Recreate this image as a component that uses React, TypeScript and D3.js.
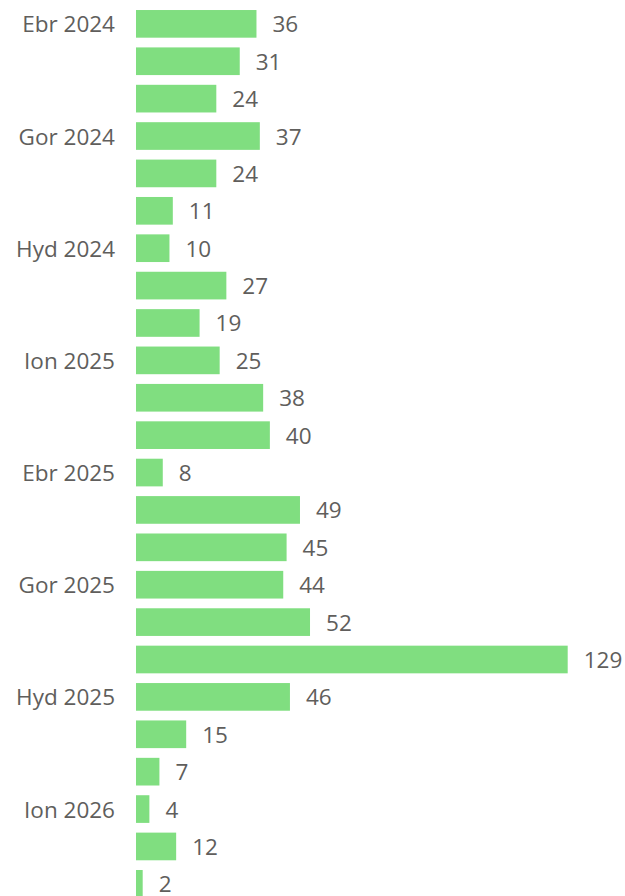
import React from "react";
import * as d3 from "d3";

const months = [
  "Ebr 2024", "Mai 2024", "Meh 2024", "Gor 2024", "Aws 2024", "Med 2024",
  "Hyd 2024", "Tach 2024", "Rhag 2024", "Ion 2025", "Chwe 2025", "Maw 2025",
  "Ebr 2025", "Mai 2025", "Meh 2025", "Gor 2025", "Aws 2025", "Med 2025",
  "Hyd 2025", "Tach 2025", "Rhag 2025", "Ion 2026", "Chwe 2026", "Maw 2026",
];
const values = [36, 31, 24, 37, 24, 11, 10, 27, 19, 25, 38, 40, 8, 49, 45, 44, 52, 129, 46, 15, 7, 4, 12, 2];
const tickLabels = ["Ebr 2024", "Gor 2024", "Hyd 2024", "Ion 2025", "Ebr 2025", "Gor 2025", "Hyd 2025", "Ion 2026"];

const W = 625;
const H = 896;
const FONT = "'Open Sans', 'Noto Sans', sans-serif";
const TEXT = "#605E5C";
const BAR = "#80DE80";

export default function App() {
  const y = d3.scaleBand<string>().domain(months).range([0.3, 907.4]).padding(0.26);
  const x = d3.scaleLinear().domain([0, 129]).range([136, 567.7]);
  return (
    <svg width={W} height={H} style={{ position: "absolute", left: 0, top: 0, display: "block" }}>
      <rect width={W} height={H} fill="#fff" />
      {months.map((m, i) => {
        const y0 = y(m)!;
        const cy = y0 + y.bandwidth() / 2;
        return (
          <g key={m}>
            <rect x={x(0)} y={y0} width={x(values[i]) - x(0)} height={y.bandwidth()} fill={BAR} />
            <text x={x(values[i]) + 16} y={cy + 8.5} fontFamily={FONT} fontSize={22.5} fill={TEXT}>
              {values[i]}
            </text>
            {tickLabels.includes(m) && (
              <text x={115} y={cy + 8.5} textAnchor="end" fontFamily={FONT} fontSize={22.5} fill={TEXT}>
                {m}
              </text>
            )}
          </g>
        );
      })}
    </svg>
  );
}
